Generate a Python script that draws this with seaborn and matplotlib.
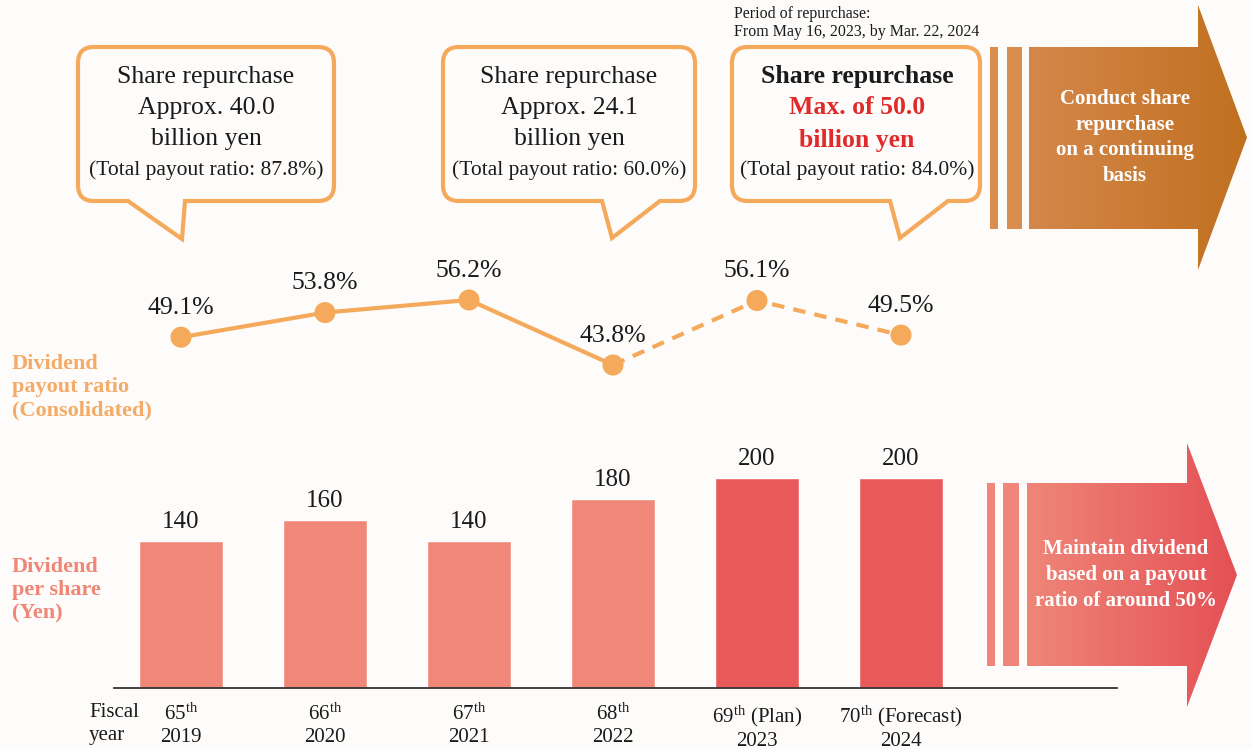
import numpy as np
import pandas as pd
import seaborn as sns
import matplotlib.pyplot as plt
from matplotlib.path import Path
from matplotlib.patches import PathPatch, Polygon, Rectangle
from matplotlib.colors import LinearSegmentedColormap

# | data |-------------------------------------------------------------------------------------------------------------|
periods = ["65", "66", "67", "68", "69", "70"]
period_notes = ["", "", "", "", " (Plan)", " (Forecast)"]
fiscal_years = ["2019", "2020", "2021", "2022", "2023", "2024"]
dividend_per_share = [140, 160, 140, 180, 200, 200]
payout_ratio = [49.1, 53.8, 56.2, 43.8, 56.1, 49.5]
bar_kind = ["actual", "actual", "actual", "actual", "plan", "plan"]
buyback_amounts = ["40.0", "24.1", "50.0"]
total_payout = [87.8, 60.0, 84.0]

# | style |------------------------------------------------------------------------------------------------------------|
W, H = 1252, 749
BG = "#fdfcfb"
ORANGE = "#F5A95B"
LIGHT_BAR = "#F0887A"
DARK_BAR = "#E85A5A"
RED_TXT = "#E02B2B"

sns.set_theme(style="white")
plt.rcParams["font.family"] = ["Liberation Serif", "DejaVu Serif"]
plt.rcParams["mathtext.fontset"] = "custom"
plt.rcParams["mathtext.rm"] = "Liberation Serif"
plt.rcParams["mathtext.it"] = "Liberation Serif"

fig = plt.figure(figsize=(W / 100, H / 100), dpi=100, facecolor=BG)

# pixel-space canvas for the callouts / arrows / free text
bg = fig.add_axes([0, 0, 1, 1])
bg.set_xlim(0, W)
bg.set_ylim(H, 0)
bg.axis("off")
bg.set_facecolor(BG)


def px_rect(x0, y_top, x1, y_bot):
    return [x0 / W, (H - y_bot) / H, (x1 - x0) / W, (y_bot - y_top) / H]


# category i sits at pixel 181 + 144 * i
x_lo, x_hi = (114 - 181) / 144, (1117 - 181) / 144
pos = np.arange(len(periods))

# | bars |-------------------------------------------------------------------------------------------------------------|
ax_bar = fig.add_axes(px_rect(114, 420, 1117, 688))
ax_bar.patch.set_alpha(0)
df = pd.DataFrame({"pos": pos, "dps": dividend_per_share, "kind": bar_kind})
sns.barplot(data=df, x="pos", y="dps", hue="kind", palette={"actual": LIGHT_BAR, "plan": DARK_BAR},
            width=0.58, dodge=False, legend=False, ax=ax_bar, native_scale=True, saturation=1)
for c in ax_bar.containers:
    ax_bar.bar_label(c, fmt="%d", padding=6, fontsize=18, color="#1a1a1a")
ax_bar.set_xlim(x_lo, x_hi)
ax_bar.set_ylim(0, (688 - 420) / 1.05)
sns.despine(ax=ax_bar, left=True)
ax_bar.spines["bottom"].set_color("#333333")
ax_bar.spines["bottom"].set_linewidth(1.3)
ax_bar.set_yticks([])
ax_bar.set_xlabel("")
ax_bar.set_ylabel("")
tick_labels = [f"{p}$^{{\\mathrm{{th}}}}${n}\n{y}" for p, n, y in zip(periods, period_notes, fiscal_years)]
ax_bar.set_xticks(pos)
ax_bar.set_xticklabels(tick_labels, fontsize=15, color="#1a1a1a", linespacing=1.22)
ax_bar.tick_params(axis="x", length=0, pad=11)

# | payout ratio line |------------------------------------------------------------------------------------------------|
ax_line = fig.add_axes(px_rect(114, 240, 1117, 400))
ax_line.patch.set_alpha(0)
sns.lineplot(x=pos[:4], y=payout_ratio[:4], color=ORANGE, lw=3, ax=ax_line)
sns.lineplot(x=pos[3:], y=payout_ratio[3:], color=ORANGE, lw=3, linestyle=(0, (3, 2.2)), ax=ax_line)
sns.scatterplot(x=pos, y=payout_ratio, s=230, color=ORANGE, edgecolor="none", zorder=3, ax=ax_line)
for xi, v in zip(pos, payout_ratio):
    ax_line.annotate(f"{v:.1f}%", (xi, v), xytext=(0, 21), textcoords="offset points",
                     ha="center", va="center", fontsize=18.5, color="#1a1a1a")
ax_line.set_xlim(x_lo, x_hi)
ax_line.set_ylim(56.2 - 100 / 5.24, 56.2 + 60 / 5.24)
ax_line.axis("off")

# | callouts |---------------------------------------------------------------------------------------------------------|
def callout(x0, y0, x1, y1, bl, tip, br, r=16):
    verts = [(x0 + r, y0), (x1 - r, y0), (x1, y0), (x1, y0 + r), (x1, y1 - r), (x1, y1), (x1 - r, y1),
             (br, y1), tip, (bl, y1), (x0 + r, y1), (x0, y1), (x0, y1 - r), (x0, y0 + r), (x0, y0),
             (x0 + r, y0), (x0 + r, y0)]
    codes = [Path.MOVETO, Path.LINETO, Path.CURVE3, Path.CURVE3, Path.LINETO, Path.CURVE3, Path.CURVE3,
             Path.LINETO, Path.LINETO, Path.LINETO, Path.LINETO, Path.CURVE3, Path.CURVE3, Path.LINETO,
             Path.CURVE3, Path.CURVE3, Path.CLOSEPOLY]
    bg.add_patch(PathPatch(Path(verts, codes), facecolor=BG, edgecolor=ORANGE, lw=3, joinstyle="miter"))


callout(78, 47, 334, 201, 128, (182, 239), 185)
callout(443, 47, 695, 201, 602, (612, 238), 660)
callout(732, 47, 980, 201, 890, (900, 238), 948)

txt = dict(ha="center", va="center", color="#1a1a1a")
for cx, amt, tp in zip([206, 569], buyback_amounts[:2], total_payout[:2]):
    bg.text(cx, 77, "Share repurchase", fontsize=18.5, **txt)
    bg.text(cx, 108, f"Approx. {amt}", fontsize=18.5, **txt)
    bg.text(cx, 139, "billion yen", fontsize=18.5, **txt)
    bg.text(cx, 170, f"(Total payout ratio: {tp:.1f}%)", fontsize=15.5, **txt)

bg.text(857, 77, "Share repurchase", fontsize=18.5, fontweight="bold", **txt)
bg.text(857, 108, f"Max. of {buyback_amounts[2]}", fontsize=18.5, fontweight="bold",
        ha="center", va="center", color=RED_TXT)
bg.text(857, 140, "billion yen", fontsize=18.5, fontweight="bold", ha="center", va="center", color=RED_TXT)
bg.text(857, 170, f"(Total payout ratio: {total_payout[2]:.1f}%)", fontsize=15.5, **txt)
bg.text(734, 23, "Period of repurchase:\nFrom May 16, 2023, by Mar. 22, 2024", fontsize=11.5,
        ha="left", va="center", color="#1a1a1a", linespacing=1.2)

# | arrows |-----------------------------------------------------------------------------------------------------------|
def grad_arrow(bx0, bx1, tip_x, by0, by1, hy0, hy1, stripes, stripe_col, c0, c1, label, tx):
    cy = (hy0 + hy1) / 2
    verts = [(bx0, by0), (bx1, by0), (bx1, hy0), (tip_x, cy), (bx1, hy1), (bx1, by1), (bx0, by1)]
    poly = Polygon(verts, closed=True, facecolor="none", edgecolor="none")
    bg.add_patch(poly)
    cmap = LinearSegmentedColormap.from_list("g", [c0, c1])
    im = bg.imshow(np.linspace(0, 1, 256)[None, :], cmap=cmap, aspect="auto",
                   extent=(bx0, tip_x, hy1, hy0), zorder=1)
    im.set_clip_path(poly)
    for s0, s1 in stripes:
        bg.add_patch(Rectangle((s0, by0), s1 - s0, by1 - by0, facecolor=stripe_col, edgecolor="none"))
    bg.text(tx, cy, label, ha="center", va="center", fontsize=15,
            fontweight="bold", color="white", linespacing=1.38, zorder=2)


grad_arrow(1029, 1198, 1247, 47, 229, 5, 270, [(990, 998), (1007, 1022)], "#D98D4E",
           "#D5874B", "#C0701F", "Conduct share\nrepurchase\non a continuing\nbasis", 1125)
grad_arrow(1027, 1187, 1237, 483, 666, 443, 707, [(987, 995), (1003, 1019)], "#EF8679",
           "#EF8678", "#E45055", "Maintain dividend\nbased on a payout\nratio of around 50%", 1126)
bg.set_xlim(0, W)
bg.set_ylim(H, 0)

# | side labels |------------------------------------------------------------------------------------------------------|
bg.text(12, 387, "Dividend\npayout ratio\n(Consolidated)", fontsize=16, fontweight="bold",
        color="#F5AA66", ha="left", va="center", linespacing=1.2)
bg.text(12, 590, "Dividend\nper share\n(Yen)", fontsize=16, fontweight="bold",
        color="#EF8676", ha="left", va="center", linespacing=1.2)
bg.text(89, 724, "Fiscal\nyear", fontsize=15, color="#1a1a1a", ha="left", va="center", linespacing=1.22)

fig.savefig("out.png", dpi=100, facecolor=BG)
